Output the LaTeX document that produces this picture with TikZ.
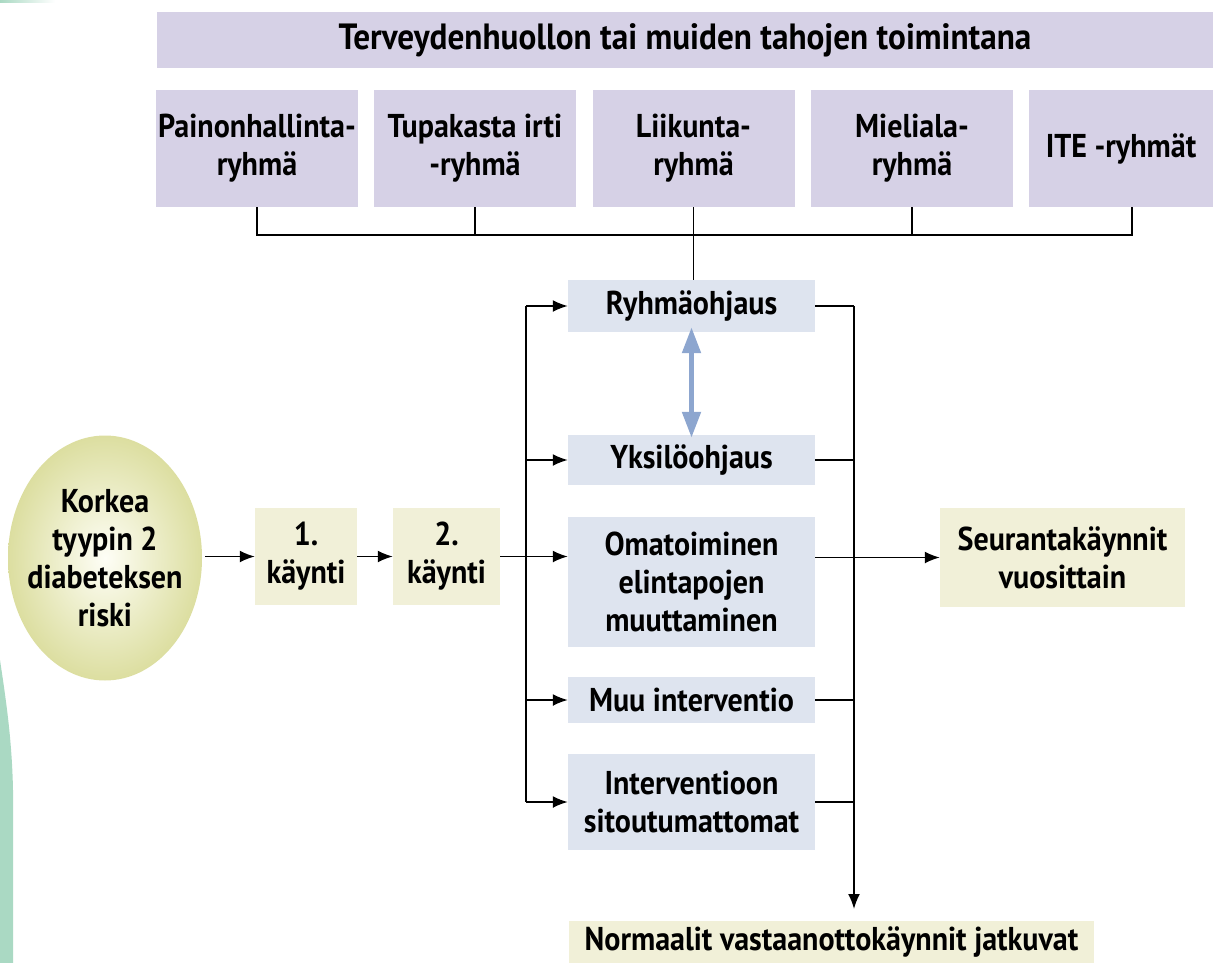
\documentclass[tikz,border=0pt]{standalone}
\usepackage{fontspec}
\setmainfont{PT Sans}[FakeStretch=0.91]
\usetikzlibrary{arrows.meta,shapes.geometric}
\definecolor{lav}{RGB}{214,209,230}
\definecolor{bluegray}{RGB}{222,228,239}
\definecolor{cream}{RGB}{241,240,216}
\definecolor{arrblue}{RGB}{141,166,207}
\definecolor{mint}{RGB}{170,217,195}
\definecolor{ellout}{RGB}{220,222,160}
\definecolor{ellin}{RGB}{254,254,246}
\begin{document}
\begin{tikzpicture}[x=1pt,y=-1pt,
  every node/.style={font=\fontsize{33}{38}\selectfont\bfseries, align=center, inner sep=0pt},
  big/.style={font=\fontsize{36.5}{38}\selectfont\bfseries},
  lavbox/.style={fill=lav, minimum height=117pt, minimum width=202pt},
  bluebox/.style={fill=bluegray, minimum width=247pt},
  creambox/.style={fill=cream},
  ln/.style={line width=1.8pt, black},
  arr/.style={ln, -{Latex[length=15pt,width=12pt]}},
  dbl/.style={arrblue, line width=5pt, {Triangle[length=26pt,width=18pt]}-{Triangle[length=26pt,width=18pt]}}
]
\useasboundingbox (0,0) rectangle (1213,963);
% decorative swoosh
\fill[mint] (0,660) .. controls (6,700) and (12,740) .. (13,790) -- (13,963) -- (0,963) -- cycle;
\shade[left color=mint, right color=white] (0,0) rectangle (55,3);

% top
\node[fill=lav, big, minimum width=1056pt, minimum height=56pt] (top) at (685,40) {Terveydenhuollon tai muiden tahojen toimintana};
\node[lavbox] (b1) at (257,148.5) {Painonhallinta-\\ryhmä};
\node[lavbox] (b2) at (475,148.5) {Tupakasta irti\\-ryhmä};
\node[lavbox] (b3) at (693.5,148.5) {Liikunta-\\ryhmä};
\node[lavbox] (b4) at (912,148.5) {Mieliala-\\ryhmä};
\node[lavbox, minimum width=184pt] (b5) at (1121,148.5) {ITE -ryhmät};

% middle column
\node[bluebox, minimum height=52pt] (ryhma) at (691.5,306) {Ryhmäohjaus};
\node[bluebox, minimum height=50pt] (yksi) at (691.5,460) {Yksilöohjaus};
\node[bluebox, minimum height=130pt] (oma) at (691.5,582) {Omatoiminen\\elintapojen\\muuttaminen};
\node[bluebox, minimum height=46pt] (muu) at (691.5,700) {Muu interventio};
\node[bluebox, minimum height=96pt] (inter) at (691.5,802) {Interventioon\\sitoutumattomat};

% left
\node[ellipse, inner sep=-60pt, minimum width=194pt, minimum height=245pt, inner color=ellin, outer color=ellout] (ell) at (105,558) {Korkea\\tyypin 2\\diabeteksen\\riski};
\node[creambox, minimum width=102pt, minimum height=97pt] (v1) at (306,556.5) {1.\\käynti};
\node[creambox, minimum width=107pt, minimum height=97pt] (v2) at (446.5,556.5) {2.\\käynti};

% right
\node[creambox, minimum width=245pt, minimum height=99pt] (seur) at (1062.5,557.5) {Seurantakäynnit\\vuosittain};
\node[creambox, minimum width=525pt, minimum height=42pt] (norm) at (831.5,942) {Normaalit vastaanottokäynnit jatkuvat};

% top connectors
\coordinate (hbus) at (0,235);
\coordinate (b5s) at ([xshift=11pt]b5.south);
\draw[ln] (b1.south) -- (b1.south |- hbus) -- (b5s |- hbus) -- (b5s);
\draw[ln] (b2.south) -- (b2.south |- hbus);
\draw[ln] (b4.south) -- (b4.south |- hbus);
\draw[ln] (b3.south) -- (b3.south |- ryhma.north);

% left bus
\coordinate (lbx) at (526,0);
\draw[ln] (lbx |- ryhma.west) -- (lbx |- inter.west);
\draw[arr] (lbx |- ryhma.west) -- (ryhma.west);
\draw[arr] (lbx |- yksi.west) -- (yksi.west);
\draw[arr] (lbx |- muu.west) -- (muu.west);
\draw[arr] (lbx |- inter.west) -- (inter.west);
\draw[arr] (v2.east) -- (v2.east -| oma.west);
\draw[arr] (v1.east) -- (v2.west);
\draw[arr, shorten <=3pt] (ell.east |- v1.west) -- (v1.west);

% right bus
\coordinate (rbx) at (854,0);
\coordinate (rbend) at (854,909);
\draw[arr] (rbx |- ryhma.east) -- (rbend);
\draw[ln] (ryhma.east) -- (rbx |- ryhma.east);
\draw[ln] (yksi.east) -- (rbx |- yksi.east);
\draw[ln] (oma.east |- seur.west) -- (rbx |- seur.west);
\draw[ln] (muu.east) -- (rbx |- muu.east);
\draw[ln] (inter.east) -- (rbx |- inter.east);
\draw[arr] (rbx |- seur.west) -- (seur.west);

% double arrow
\draw[dbl] ([yshift=5pt]ryhma.south) -- ([yshift=-3pt]yksi.north);
\end{tikzpicture}
\end{document}
